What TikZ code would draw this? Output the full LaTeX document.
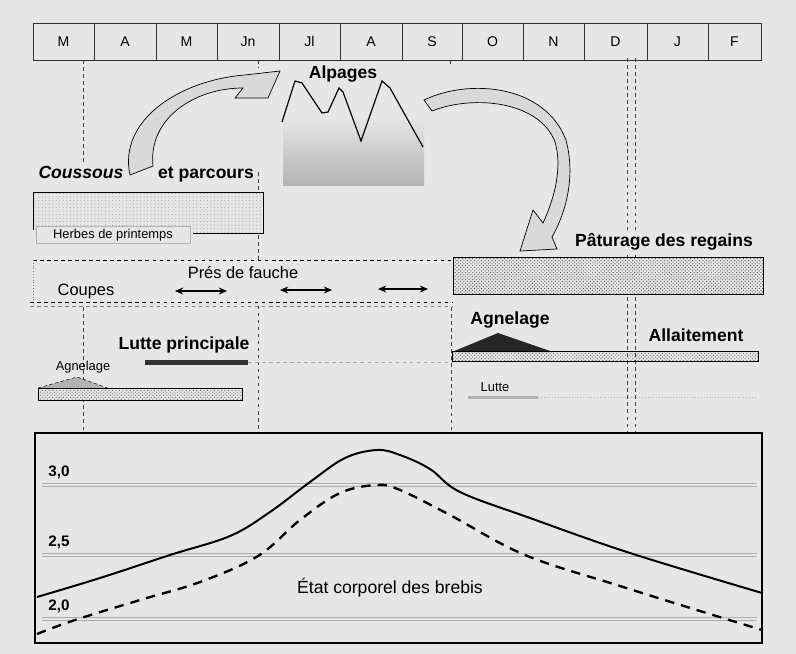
\documentclass[tikz,border=0pt]{standalone}
\usepackage{fontspec}
\setmainfont{Liberation Sans}
\usetikzlibrary{patterns,arrows.meta}
\definecolor{paper}{HTML}{E6E6E6}

\begin{document}
\begin{tikzpicture}[x=0.03cm,y=-0.03cm,
  big/.style={font=\fontsize{15}{17}\selectfont\bfseries,inner sep=1pt},
  mid/.style={font=\fontsize{14}{16}\selectfont,inner sep=1pt},
  small/.style={font=\fontsize{11}{13}\selectfont,inner sep=1pt},
  month/.style={draw=black!80,line width=0.8pt,minimum height=1.11cm,inner sep=0pt,font=\fontsize{12}{14}\selectfont},
  vdash/.style={dashed,black!75,line width=0.6pt},
  grid/.style={gray!65,line width=0.5pt},
  hatch/.style={pattern=crosshatch dots,pattern color=gray!75!black},
  flow/.style={fill=gray!30,draw=black,line width=0.6pt},
  fauche/.style={{Stealth[length=7pt,width=6pt]}-{Stealth[length=7pt,width=6pt]},line width=1pt}]
\fill[paper] (0,0) rectangle (796,654);
\useasboundingbox (0,0) rectangle (796,654);

\foreach \a/\b/\m [count=\i] in {33/94/M,94/156/A,156/217/M,217/279/Jn,279/340/Jl,340/402/A,402/462/S,462/523/O,523/584/N,584/647/D,647/708/J,708/761/F}
  \node[month,minimum width={(\b-\a)*0.03cm}] (m\i) at ({(\a+\b)/2},41.5) {\m};

\draw[vdash] (83,60) -- (83,165) (83,307) -- (83,433);
\draw[vdash] (258,60) -- (258,68) (258,172) -- (258,433);
\draw[vdash] (450,60) -- (450,66) (451,293) -- (451,433);
\draw[vdash] (627,58) -- (627,433) (635,58) -- (635,433);

\fill[top color=paper,bottom color=gray!60] (283,118) rectangle (424,186);
\draw[line width=1pt] plot coordinates {(282,122) (295,81) (302,83) (322,113) (328,112) (339,88) (343,92) (361,141) (382,81) (390,88) (423,147)};
\node[big] (alp) at (343,74) {Alpages};

\draw[flow] (130,175) .. controls (118,120) and (180,80) .. (245,75) -- (280,71) -- (268,98) -- (235,98) -- (243,88)
  .. controls (195,88) and (148,118) .. (153,166) -- cycle;
\draw[flow] (424,100) .. controls (470,78) and (545,85) .. (566,140) .. controls (574,170) and (570,205) .. (552,237)
  -- (557,249) -- (520,251) -- (533,210) -- (543,223) .. controls (556,195) and (562,165) .. (555,142)
  .. controls (540,102) and (475,94) .. (432,111) -- cycle;

\node[font=\fontsize{15}{17}\selectfont\bfseries\itshape,inner sep=1pt] (cou) at (81,172) {Coussous};
\node[big,fill=paper] (par) at (206,175) {et parcours};
\fill[paper] (33,192) rectangle (263,233);
\fill[pattern=dots,pattern color=gray!70] (33,192) rectangle (263,233);
\draw[line width=0.8pt] (33,230) -- (33,192) -- (263,192) -- (263,233) -- (193,233);
\node[small,draw=gray!60,fill=paper,minimum width=4.62cm,minimum height=0.51cm] (herbes) at (113,235) {Herbes de printemps};

\fill[paper] (33,260) rectangle (453,305);
\draw[dashed,line width=0.8pt] (33,260) -- (453,260);
\draw[dotted,gray] (33,260) -- (33,305);
\draw[dashed,line width=0.8pt] (30,302) -- (453,302);
\draw[dashed,gray] (30,306) -- (453,306);
\node[mid] (pres) at (243,273) {Prés de fauche};
\node[mid] (coupes) at (86,291) {Coupes};
\coordinate (f1a) at (175,291); \coordinate (f1b) at (227,291);
\coordinate (f2a) at (280,290); \coordinate (f2b) at (332,290);
\coordinate (f3a) at (378,289); \coordinate (f3b) at (428,289);
\draw[fauche] (f1a) -- (f1b);
\draw[fauche] (f2a) -- (f2b);
\draw[fauche] (f3a) -- (f3b);

\node[big,fill=paper] (pat) at (664,242) {Pâturage des regains};
\fill[paper] (453,257) rectangle (763,294);
\draw[pattern=crosshatch dots,pattern color=gray!50!black,line width=0.8pt] (453,257) rectangle (763,294);

\node[big] (lutp) at (184,345) {Lutte principale};
\fill[gray!40!black] (145,360) rectangle (248,365);
\draw[dashed,gray!70] (248,362) -- (452,362);
\node[small] (agn1) at (83,367) {Agnelage};
\draw[densely dashed,fill=gray!60] (38,388) -- (77,377) -- (113,390) -- cycle;
\fill[paper] (38,388) rectangle (242,400);
\draw[hatch,line width=0.8pt] (38,388) rectangle (242,400);

\node[big] (agn2) at (510,320) {Agnelage};
\fill[black!85] (452,352) -- (498,333) -- (553,352) -- cycle;
\draw[hatch,line width=0.8pt] (452,351) rectangle (758,361);
\node[big] (allait) at (696,335) {Allaitement};
\node[small] (lutte) at (495,387) {Lutte};
\fill[gray!60] (468,396) rectangle (538,398.5);
\draw[dotted,gray!60] (538,397) -- (757,397);

\draw[line width=0.9pt] (35,433) rectangle (762,643);
\foreach \y/\v [count=\i] in {485/{3,0},555/{2,5},619/{2,0}} {
  \draw[grid] (42,\y-1.5) -- (757,\y-1.5) (42,\y+1.5) -- (757,\y+1.5);
  \node[font=\fontsize{13}{15}\selectfont\bfseries,inner sep=0pt] (lab\i) at (59,\y-13) {\v};
}
\draw[line width=1.7pt] plot[smooth,tension=0.6] coordinates {(37,597) (100,578) (170,555) (230,536) (270,512) (310,482) (345,458) (377,450) (400,455) (430,469) (460,492) (530,518) (630,553) (762,593)};
\draw[line width=2pt,dash pattern=on 8pt off 6pt] plot[smooth,tension=0.6] coordinates {(37,634) (75,620) (140,600) (200,582) (258,556) (300,520) (340,493) (377,485) (400,490) (450,515) (525,555) (620,586) (700,611) (762,630)};
\node[font=\fontsize{15}{17}\selectfont,inner sep=1pt] (etat) at (390,588) {État corporel des brebis};
\end{tikzpicture}
\end{document}
